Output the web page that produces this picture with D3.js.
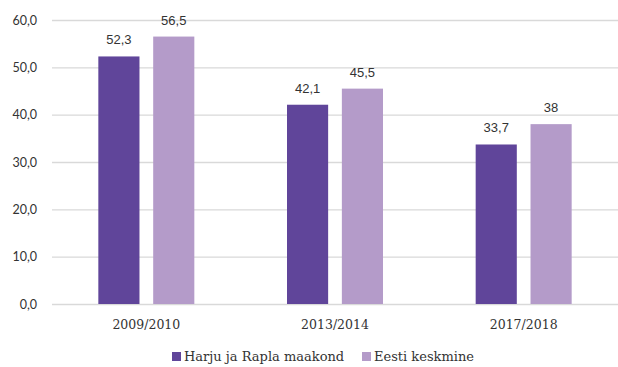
<!DOCTYPE html>
<html>
<head>
<meta charset="utf-8">
<script src="https://cdn.jsdelivr.net/npm/d3@7"></script>
<style>
  body { margin: 0; background: #fff; }
  svg { display: block; }
</style>
</head>
<body>
<script>
// Data
var periods = ["2009/2010", "2013/2014", "2017/2018"];
var seriesNames = ["Harju ja Rapla maakond", "Eesti keskmine"];
var harjuRapla = [52.3, 42.1, 33.7];
var eestiKeskmine = [56.5, 45.5, 38];
var valueLabels = [["52,3", "42,1", "33,7"], ["56,5", "45,5", "38"]];
var yTicks = [0, 10, 20, 30, 40, 50, 60];
var colors = ["#60459a", "#b49bc9"];

var svgWidth = 618, svgHeight = 367;
var margin = { top: 20, right: 0, bottom: 63, left: 52 };
var chartWidth = svgWidth - margin.left - margin.right;
var chartHeight = svgHeight - margin.top - margin.bottom;

var svg = d3.select("body").append("svg")
  .attr("width", svgWidth)
  .attr("height", svgHeight);

var chartGroup = svg.append("g")
  .attr("transform", `translate(${margin.left}, ${margin.top})`);

var xScale = d3.scaleBand().domain(periods).range([0, chartWidth]).padding(0);
var innerScale = d3.scaleBand().domain([0, 1]).range([-48, 48]).paddingInner(0.25).paddingOuter(0);
var yScale = d3.scaleLinear().domain([0, 60]).range([chartHeight, 0]);

// Gridlines + y labels
var yAxis = d3.axisLeft(yScale).tickValues(yTicks)
  .tickSize(-chartWidth)
  .tickFormat(d => d3.format(".1f")(d).replace(".", ","));

chartGroup.append("g")
  .call(yAxis)
  .call(g => g.select(".domain").remove())
  .call(g => g.selectAll(".tick line").attr("stroke", "#d9d9d9").attr("stroke-width", 1.3))
  .call(g => g.selectAll(".tick text")
    .attr("x", -15)
    .attr("fill", "#333")
    .style("font-family", "Lato, 'Open Sans', sans-serif")
    .style("font-size", "12.5px"));

// Bars
var rows = periods.map((p, i) => ({ period: p, values: [harjuRapla[i], eestiKeskmine[i]], idx: i }));

var groups = chartGroup.selectAll(".grp").data(rows).enter().append("g")
  .attr("class", "grp")
  .attr("transform", d => `translate(${xScale(d.period) + xScale.bandwidth() / 2}, 0)`);

groups.selectAll("rect")
  .data(d => d.values.map((v, s) => ({ v: v, s: s, i: d.idx })))
  .enter().append("rect")
  .attr("x", d => innerScale(d.s))
  .attr("width", innerScale.bandwidth())
  .attr("y", d => yScale(d.v))
  .attr("height", d => chartHeight - yScale(d.v))
  .attr("fill", d => colors[d.s]);

groups.selectAll(".lbl")
  .data(d => d.values.map((v, s) => ({ v: v, s: s, i: d.idx })))
  .enter().append("text")
  .attr("class", "lbl")
  .attr("x", d => innerScale(d.s) + innerScale.bandwidth() / 2)
  .attr("y", d => yScale(d.v) - 12)
  .attr("text-anchor", "middle")
  .attr("fill", "#333")
  .style("font-family", "'Liberation Sans', Arial, sans-serif")
  .style("font-size", "13px")
  .text(d => valueLabels[d.s][d.i]);

// X axis labels
var xAxis = d3.axisBottom(xScale).tickSize(0).tickPadding(16);
chartGroup.append("g")
  .attr("transform", `translate(0, ${chartHeight})`)
  .call(xAxis)
  .call(g => g.select(".domain").remove())
  .call(g => g.selectAll(".tick text")
    .attr("fill", "#333")
    .style("font-family", "'DejaVu Serif', serif")
    .style("font-size", "12.5px"));

// Legend
var legendX = [172, 362];
var legend = svg.append("g").attr("transform", "translate(0, 352)");
seriesNames.forEach(function(name, s) {
  legend.append("rect")
    .attr("x", legendX[s]).attr("y", 0)
    .attr("width", 9).attr("height", 9)
    .attr("fill", colors[s]);
  legend.append("text")
    .attr("x", legendX[s] + 12).attr("y", 9)
    .attr("fill", "#333")
    .style("font-family", "'DejaVu Serif', serif")
    .style("font-size", "13px")
    .text(name);
});
</script>
</body>
</html>
